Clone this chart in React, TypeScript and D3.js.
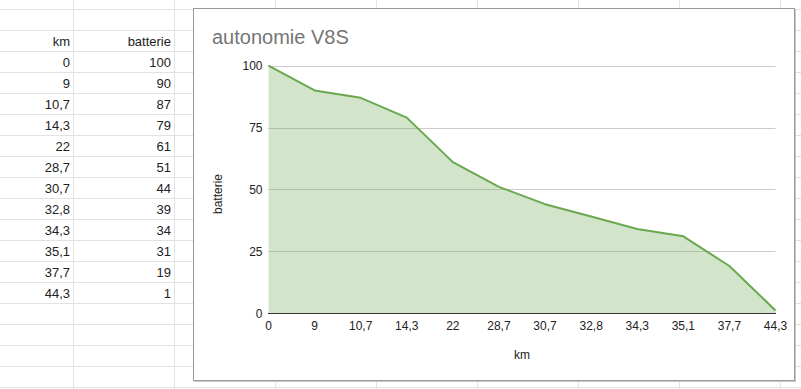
import React from "react";
import * as d3 from "d3";

const kmLabels = ["0", "9", "10,7", "14,3", "22", "28,7", "30,7", "32,8", "34,3", "35,1", "37,7", "44,3"];
const batterie = [100, 90, 87, 79, 61, 51, 44, 39, 34, 31, 19, 1];
const yTicks = [0, 25, 50, 75, 100];
const title = "autonomie V8S";

const W = 801;
const H = 389;
const FONT = "'Liberation Sans', Arial, sans-serif";

export default function App() {
  const x = d3.scalePoint<string>().domain(kmLabels).range([268.5, 775.5]);
  const y = d3.scaleLinear().domain([0, 100]).range([313, 65.7]);

  const pts = kmLabels.map((k, i) => ({ k, v: batterie[i] }));
  const area = d3
    .area<{ k: string; v: number }>()
    .x((d) => x(d.k)!)
    .y0(y(0))
    .y1((d) => y(d.v));
  const line = d3
    .line<{ k: string; v: number }>()
    .x((d) => x(d.k)!)
    .y((d) => y(d.v));

  // spreadsheet grid
  const rowLines = d3.range(0, 19).map((i) => 9 + 21 * i);
  const colLines = [73, 174, 275, 376, 477, 578, 679, 780];
  const gridColor = "#e2e2e2";

  const rowY = (i: number) => 30 + 21 * i; // top of row i (0 = header)

  return (
    <svg
      width={W}
      height={H}
      style={{ position: "absolute", left: 0, top: 0, background: "#fff" }}
      fontFamily={FONT}
    >
      <rect x={0} y={0} width={W} height={H} fill="#fff" />
      {rowLines.map((ry) => (
        <line key={"r" + ry} x1={0} x2={W} y1={ry + 0.5} y2={ry + 0.5} stroke={gridColor} />
      ))}
      {colLines.map((cx) => (
        <line key={"c" + cx} x1={cx + 0.5} x2={cx + 0.5} y1={0} y2={H} stroke={gridColor} />
      ))}

      {/* table */}
      <text x={70} y={rowY(1) - 5} fontSize={13} textAnchor="end" fill="#222">km</text>
      <text x={171} y={rowY(1) - 5} fontSize={13} textAnchor="end" fill="#222">batterie</text>
      {kmLabels.map((k, i) => (
        <g key={"t" + i}>
          <text x={70} y={rowY(i + 2) - 5} fontSize={13} textAnchor="end" fill="#222">{k}</text>
          <text x={171} y={rowY(i + 2) - 5} fontSize={13} textAnchor="end" fill="#222">{batterie[i]}</text>
        </g>
      ))}

      {/* chart box */}
      <rect x={194} y={9} width={602} height={373} fill="#c8c8c8" />
      <rect x={193.5} y={8.5} width={601} height={372} fill="#fff" stroke="#9a9a9a" strokeWidth={1} />

      <text x={212} y={44} fontSize={20} fill="#757575">{title}</text>

      {/* gridlines */}
      {yTicks.filter((t) => t !== 0).map((t) => (
        <line key={"g" + t} x1={268.5} x2={775.5} y1={Math.round(y(t)) + 0.5} y2={Math.round(y(t)) + 0.5} stroke="#cccccc" />
      ))}

      <path d={area(pts)!} fill="#6aa84f" fillOpacity={0.3} />
      <path d={line(pts)!} fill="none" stroke="#6aa84f" strokeWidth={2} strokeLinejoin="round" />
      <line x1={268} x2={776} y1={313.5} y2={313.5} stroke="#333" strokeWidth={1} />

      {yTicks.map((t) => (
        <text key={"yl" + t} x={262.5} y={y(t) + 4.5} fontSize={12} textAnchor="end" fill="#222">{t}</text>
      ))}
      {kmLabels.map((k) => (
        <text key={"xl" + k} x={x(k)!} y={329.5} fontSize={12} textAnchor="middle" fill="#222">{k}</text>
      ))}

      <text x={522} y={359} fontSize={12} textAnchor="middle" fill="#222">km</text>
      <text transform={`translate(222,194) rotate(-90)`} fontSize={12} textAnchor="middle" fill="#222">batterie</text>
    </svg>
  );
}
